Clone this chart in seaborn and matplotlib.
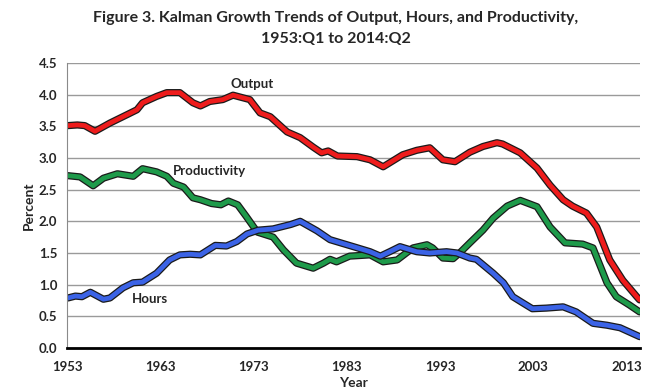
import matplotlib.pyplot as plt
import matplotlib.patheffects as pe
import pandas as pd
import seaborn as sns

# values (year, percent)
output_years = [1953.1, 1954.1, 1954.9, 1956.0, 1957.6, 1959.4, 1960.5, 1961.1, 1962.6, 1963.7,
                1965.1, 1966.5, 1967.3, 1968.3, 1969.7, 1970.8, 1972.6, 1973.7, 1974.8, 1976.6,
                1978.0, 1979.4, 1980.3, 1981.0, 1982.0, 1984.1, 1985.5, 1986.9, 1989.0, 1990.5,
                1991.9, 1993.3, 1994.6, 1996.2, 1997.6, 1999.1, 1999.7, 2001.6, 2003.4, 2004.8,
                2006.2, 2007.2, 2008.7, 2009.8, 2011.2, 2012.6, 2014.1, 2014.4]
output_vals = [3.51, 3.52, 3.51, 3.42, 3.55, 3.68, 3.76, 3.87, 3.97, 4.03,
               4.03, 3.87, 3.82, 3.89, 3.92, 3.99, 3.92, 3.71, 3.65, 3.41,
               3.32, 3.17, 3.08, 3.11, 3.03, 3.02, 2.97, 2.86, 3.05, 3.12,
               3.16, 2.97, 2.94, 3.09, 3.18, 3.24, 3.22, 3.08, 2.84, 2.57,
               2.34, 2.24, 2.13, 1.91, 1.39, 1.07, 0.81, 0.76]

prod_years = [1953.1, 1954.4, 1955.8, 1956.9, 1958.4, 1960.1, 1961.1, 1962.6, 1963.7, 1964.4,
              1965.5, 1966.5, 1967.3, 1968.5, 1969.5, 1970.3, 1971.3, 1972.2, 1973.4, 1975.1,
              1976.2, 1977.6, 1979.4, 1980.5, 1981.2, 1981.9, 1983.3, 1985.5, 1986.9, 1988.4,
              1990.1, 1991.6, 1992.2, 1993.3, 1994.4, 1995.1, 1996.2, 1997.6, 1998.7, 2000.2,
              2001.6, 2003.4, 2004.8, 2006.4, 2008.3, 2009.4, 2010.9, 2011.9, 2013.3, 2014.4]
prod_vals = [2.72, 2.70, 2.56, 2.68, 2.75, 2.71, 2.83, 2.78, 2.71, 2.60,
             2.54, 2.37, 2.34, 2.28, 2.26, 2.32, 2.26, 2.08, 1.83, 1.75,
             1.55, 1.34, 1.26, 1.34, 1.40, 1.36, 1.45, 1.47, 1.36, 1.39,
             1.58, 1.63, 1.58, 1.42, 1.41, 1.50, 1.66, 1.86, 2.05, 2.24,
             2.33, 2.23, 1.91, 1.66, 1.64, 1.58, 1.03, 0.81, 0.68, 0.57]

hours_years = [1953.1, 1953.9, 1954.6, 1955.5, 1956.9, 1957.6, 1959.0, 1960.1, 1961.1, 1962.6,
               1964.0, 1965.1, 1966.2, 1967.3, 1968.9, 1970.1, 1971.2, 1972.3, 1973.5, 1975.1,
               1977.0, 1978.0, 1979.8, 1981.2, 1983.7, 1985.5, 1986.6, 1987.6, 1988.7, 1990.5,
               1991.9, 1993.7, 1994.8, 1996.2, 1996.9, 1998.7, 1999.8, 2000.8, 2001.9, 2002.9,
               2004.4, 2006.2, 2007.6, 2009.4, 2010.9, 2012.3, 2014.4]
hours_vals = [0.79, 0.82, 0.81, 0.88, 0.77, 0.79, 0.95, 1.03, 1.04, 1.18,
              1.39, 1.47, 1.48, 1.47, 1.62, 1.61, 1.68, 1.80, 1.86, 1.88,
              1.95, 2.00, 1.85, 1.71, 1.60, 1.52, 1.45, 1.52, 1.60, 1.52,
              1.50, 1.52, 1.50, 1.42, 1.40, 1.18, 1.03, 0.81, 0.71, 0.62,
              0.63, 0.65, 0.57, 0.39, 0.36, 0.32, 0.18]

series_names = ['Output', 'Productivity', 'Hours']
colors = {'Output': '#ee1c1c', 'Productivity': '#1e9a4a', 'Hours': '#3b63e6'}

df = pd.concat([
    pd.DataFrame({'year': output_years, 'value': output_vals, 'series': 'Output'}),
    pd.DataFrame({'year': prod_years, 'value': prod_vals, 'series': 'Productivity'}),
    pd.DataFrame({'year': hours_years, 'value': hours_vals, 'series': 'Hours'}),
])

sns.set_style("white")
plt.rcParams['font.family'] = ['Lato', 'DejaVu Sans']

fig = plt.figure(figsize=(6.71, 3.88), dpi=100)
ax = fig.add_axes([0.0999, 0.103, 0.854, 0.735])

for name in series_names:
    sub = df[df['series'] == name]
    sns.lineplot(data=sub, x='year', y='value', ax=ax, color=colors[name], linewidth=3.4,
                 estimator=None, sort=False, legend=False,
                 path_effects=[pe.Stroke(linewidth=5.2, foreground='#1a1a1a'), pe.Normal()])

ax.set_xlim(1953, 2014.45)
ax.set_ylim(0, 4.5)
ax.set_yticks([i * 0.5 for i in range(10)])
ax.set_yticklabels([f'{i * 0.5:.1f}' for i in range(10)], fontsize=9.5, fontweight='bold')
ax.set_xticks(list(range(1953, 2014, 10)))
ax.set_xticklabels([str(y) for y in range(1953, 2014, 10)], fontsize=9.5, fontweight='bold')
ax.grid(axis='y', color='#9a9a9a', linewidth=1)
ax.set_axisbelow(True)
for s in ['top', 'right']:
    ax.spines[s].set_visible(False)
ax.spines['left'].set_color('#8a8a8a')
ax.spines['bottom'].set_color('black')
ax.spines['bottom'].set_linewidth(2)
ax.tick_params(axis='x', direction='out', length=4, color='#8a8a8a', pad=5)
ax.tick_params(axis='y', length=0, pad=7)
ax.set_xlabel('Year', fontsize=10, fontweight='bold', labelpad=3)
ax.set_ylabel('Percent', fontsize=10, fontweight='bold', labelpad=3)

ax.text(1972.8, 4.17, 'Output', fontsize=9.5, fontweight='bold', ha='center', va='center')
ax.text(1968.3, 2.79, 'Productivity', fontsize=9.5, fontweight='bold', ha='center', va='center')
ax.text(1961.9, 0.77, 'Hours', fontsize=9.5, fontweight='bold', ha='center', va='center')

fig.text(0.5, 0.953, 'Figure 3. Kalman Growth Trends of Output, Hours, and Productivity,',
         ha='center', va='center', fontsize=11.5, fontweight='bold')
fig.text(0.5, 0.9, '1953:Q1 to 2014:Q2', ha='center', va='center', fontsize=11.5, fontweight='bold')

fig.savefig('out.png', dpi=100)
